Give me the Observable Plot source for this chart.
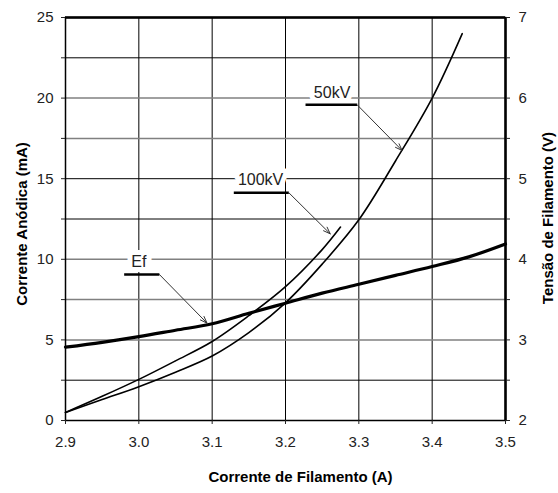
<!DOCTYPE html>
<html>
<head>
<meta charset="utf-8">
<script src="https://cdn.jsdelivr.net/npm/d3@7"></script>
<script src="https://cdn.jsdelivr.net/npm/@observablehq/plot@0.6"></script>
<style>
  body { margin: 0; background: #fff; font-family: "Liberation Sans", Arial, sans-serif; }
</style>
</head>
<body>
<div id="chart"></div>
<script>
// ---- Data ----
// Filament current (A) sample points
const current50kV = [2.9, 2.95, 3.0, 3.05, 3.1, 3.15, 3.2, 3.25, 3.3, 3.35, 3.4, 3.441];
const anode50kV   = [0.5, 1.3, 2.1, 3.0, 4.0, 5.45, 7.3, 9.7, 12.45, 16.1, 20.0, 24.0]; // mA

const current100kV = [2.9, 2.95, 3.0, 3.05, 3.1, 3.15, 3.2, 3.25, 3.275];
const anode100kV   = [0.5, 1.5, 2.55, 3.7, 4.9, 6.5, 8.3, 10.6, 12.0]; // mA

const currentEf = [2.9, 2.95, 3.0, 3.05, 3.1, 3.15, 3.2, 3.25, 3.3, 3.35, 3.4, 3.45, 3.5];
const voltageEf = [2.91, 2.97, 3.04, 3.12, 3.2, 3.33, 3.455, 3.58, 3.69, 3.8, 3.91, 4.03, 4.19]; // V

// Axis ticks
const xTicks = [2.9, 3.0, 3.1, 3.2, 3.3, 3.4, 3.5];
const mATicks = [0, 2.5, 5, 7.5, 10, 12.5, 15, 17.5, 20, 22.5, 25];
const voltTicks = [2, 2.5, 3, 3.5, 4, 4.5, 5, 5.5, 6, 6.5, 7];
const gridDark = [2.5, 12.5, 15, 22.5];
const gridGray = [5, 7.5, 10, 17.5, 20];

// Annotations (data coordinates: A, mA)
const labelText = ["Ef", "100kV", "50kV"];
const labelX = [3.0, 3.166, 3.2635];
const labelY = [9.85, 14.95, 20.35];
const underlineX1 = [2.98, 3.1295, 3.2273];
const underlineX2 = [3.028, 3.2045, 3.2978];
const underlineY = [9.06, 14.13, 19.58];
const arrowTipX = [3.093, 3.261, 3.359];
const arrowTipY = [6.04, 11.58, 16.75];

// Axis titles
const xTitle = "Corrente de Filamento (A)";
const yLeftTitle = "Corrente Anódica (mA)";
const yRightTitle = "Tensão de Filamento (V)";

// ---- Derived tables ----
const voltToMA = v => (v - 2) * 5; // right axis (2–7 V) mapped onto left scale (0–25 mA)
const s50 = current50kV.map((x, i) => ({x, y: anode50kV[i]}));
const s100 = current100kV.map((x, i) => ({x, y: anode100kV[i]}));
const sEf = currentEf.map((x, i) => ({x, y: voltToMA(voltageEf[i])}));
const labels = labelText.map((t, i) => ({
  t, x: labelX[i], y: labelY[i],
  ux1: underlineX1[i], ux2: underlineX2[i], uy: underlineY[i],
  tx: arrowTipX[i], ty: arrowTipY[i]
}));

const chart = Plot.plot({
  width: 558,
  height: 493,
  marginLeft: 65,
  marginRight: 53,
  marginTop: 17,
  marginBottom: 73,
  style: {fontFamily: "'Liberation Sans', Arial, sans-serif", fontSize: "15px", background: "#fff", color: "#222"},
  x: {domain: [2.9, 3.5]},
  y: {domain: [0, 25]},
  marks: [
    Plot.ruleX(xTicks, {stroke: "#000", strokeWidth: 1}),
    Plot.ruleY(gridDark, {stroke: "#000", strokeWidth: 1}),
    Plot.ruleY(gridGray, {stroke: "#808080", strokeWidth: 1.5}),
    Plot.frame({stroke: "#000", strokeWidth: 1.5}),
    Plot.ruleY([25], {stroke: "#000", strokeWidth: 2.5}),
    Plot.ruleX([3.5], {stroke: "#000", strokeWidth: 2.5}),
    Plot.axisX({ticks: xTicks, tickFormat: d3.format(".1f"), tickSize: 4, tickPadding: 12, label: null}),
    Plot.axisY({ticks: mATicks, anchor: "left", tickFormat: d => d % 5 === 0 ? String(d) : "", tickSize: 4, tickPadding: 8, label: null}),
    Plot.axisY({ticks: voltTicks.map(voltToMA), anchor: "right", tickFormat: d => d % 5 === 0 ? String(d / 5 + 2) : "", tickSize: 4, tickPadding: 9, label: null}),
    Plot.line(sEf, {x: "x", y: "y", curve: "catmull-rom", stroke: "#000", strokeWidth: 3.2}),
    Plot.line(s100, {x: "x", y: "y", curve: "catmull-rom", stroke: "#000", strokeWidth: 1.6}),
    Plot.line(s50, {x: "x", y: "y", curve: "catmull-rom", stroke: "#000", strokeWidth: 1.6}),
    Plot.text(labels, {x: "x", y: "y", text: "t", fontSize: 16, fill: "#222", stroke: "#fff", strokeWidth: 10, strokeLinejoin: "round"}),
    Plot.link(labels, {x1: "ux1", x2: "ux2", y1: "uy", y2: "uy", stroke: "#000", strokeWidth: 2.5}),
    Plot.arrow(labels, {x1: "ux2", y1: "uy", x2: "tx", y2: "ty", stroke: "#333", strokeWidth: 1, headLength: 11, headAngle: 40}),
    Plot.text([xTitle], {frameAnchor: "bottom", lineAnchor: "middle", textAnchor: "middle", dy: 57, dx: 15, fontWeight: "bold", fontSize: 15, fill: "#000"}),
    Plot.text([yLeftTitle], {frameAnchor: "left", rotate: -90, lineAnchor: "middle", textAnchor: "middle", dx: -43, dy: 5, fontWeight: "bold", fontSize: 15, fill: "#000"}),
    Plot.text([yRightTitle], {frameAnchor: "right", rotate: -90, lineAnchor: "middle", textAnchor: "middle", dx: 43, dy: -1, fontWeight: "bold", fontSize: 15, fill: "#000"})
  ]
});
document.getElementById("chart").append(chart);
</script>
</body>
</html>
